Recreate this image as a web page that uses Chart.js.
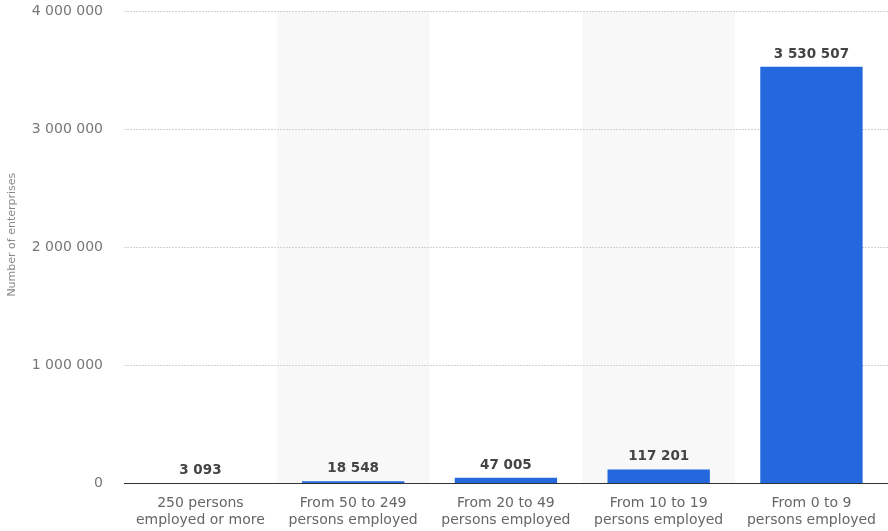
<!DOCTYPE html>
<html>
<head>
<meta charset="utf-8">
<script src="https://cdn.jsdelivr.net/npm/chart.js@4/dist/chart.umd.min.js"></script>
<style>
    body { margin: 0; background: #fff; }
    #wrap { width: 888px; height: 531px; }
</style>
</head>
<body>
<div id="wrap"><canvas id="sizeChart" width="888" height="531"></canvas></div>
<script>
const categories = [
    ['250 persons', 'employed or more'],
    ['From 50 to 249', 'persons employed'],
    ['From 20 to 49', 'persons employed'],
    ['From 10 to 19', 'persons employed'],
    ['From 0 to 9', 'persons employed']
];
const enterprises = [3093, 18548, 47005, 117201, 3530507];
const yTicks = [0, 1000000, 2000000, 3000000, 4000000];
const yTitle = 'Number of enterprises';

const FONT = "'DejaVu Sans', sans-serif";

// 3530507 -> "3 530 507"
function spaced(n) {
    return String(Math.round(n)).replace(/\B(?=(\d{3})+(?!\d))/g, ' ');
}

// light bands behind every second category, under the grid
const bands = {
    id: 'bands',
    beforeDraw(chart) {
        const { ctx, chartArea, scales } = chart;
        const x = scales.x;
        const step = x.width / categories.length;
        ctx.save();
        ctx.fillStyle = '#f8f8f8';
        categories.forEach((c, i) => {
            if (i % 2 === 1) {
                const left = x.getPixelForValue(i) - step / 2;
                ctx.fillRect(left, chartArea.top, step, chartArea.bottom - chartArea.top);
            }
        });
        ctx.restore();
    }
};

// value labels on top of the bars
const valueLabels = {
    id: 'valueLabels',
    afterDatasetsDraw(chart) {
        const { ctx } = chart;
        const meta = chart.getDatasetMeta(0);
        ctx.save();
        ctx.font = 'bold 13.5px ' + FONT;
        ctx.fillStyle = '#444';
        ctx.textAlign = 'center';
        ctx.textBaseline = 'bottom';
        meta.data.forEach((bar, i) => {
            ctx.fillText(spaced(enterprises[i]), bar.x, bar.y - 6);
        });
        ctx.restore();
    }
};

// rotated y title, sits a bit above the middle of the axis
const sideTitle = {
    id: 'sideTitle',
    afterDraw(chart) {
        const { ctx, chartArea } = chart;
        ctx.save();
        ctx.translate(12, chartArea.top + (chartArea.bottom - chartArea.top) * 0.473);
        ctx.rotate(-Math.PI / 2);
        ctx.font = '11px ' + FONT;
        ctx.fillStyle = '#888';
        ctx.textAlign = 'center';
        ctx.textBaseline = 'middle';
        ctx.fillText(yTitle, 0, 0);
        ctx.restore();
    }
};

new Chart(document.getElementById('sizeChart'), {
    type: 'bar',
    data: {
        labels: categories,
        datasets: [{
            data: enterprises,
            backgroundColor: '#2369dd',
            barPercentage: 0.67,
            categoryPercentage: 1
        }]
    },
    options: {
        responsive: false,
        animation: false,
        layout: { padding: { top: 0, right: 0, bottom: -10, left: 0 } },
        plugins: {
            legend: { display: false },
            tooltip: { enabled: false }
        },
        scales: {
            x: {
                grid: { display: false, drawTicks: false },
                border: { display: true, color: '#333', width: 1 },
                ticks: {
                    color: '#666',
                    font: { family: FONT, size: 14 },
                    padding: 12,
                    maxRotation: 0,
                    autoSkip: false
                }
            },
            y: {
                min: yTicks[0],
                max: yTicks[yTicks.length - 1],
                afterBuildTicks(scale) {
                    scale.ticks = yTicks.map(v => ({ value: v }));
                },
                afterFit(scale) {
                    scale.width = 124;
                },
                grid: { color: '#d2d2d2', drawTicks: true, tickLength: 18, tickColor: 'rgba(0,0,0,0)' },
                border: { display: false, dash: [2, 1] },
                ticks: {
                    color: '#777',
                    font: { family: FONT, size: 14 },
                    padding: 3,
                    callback: v => spaced(v)
                }
            }
        }
    },
    plugins: [bands, valueLabels, sideTitle]
});
</script>
</body>
</html>
